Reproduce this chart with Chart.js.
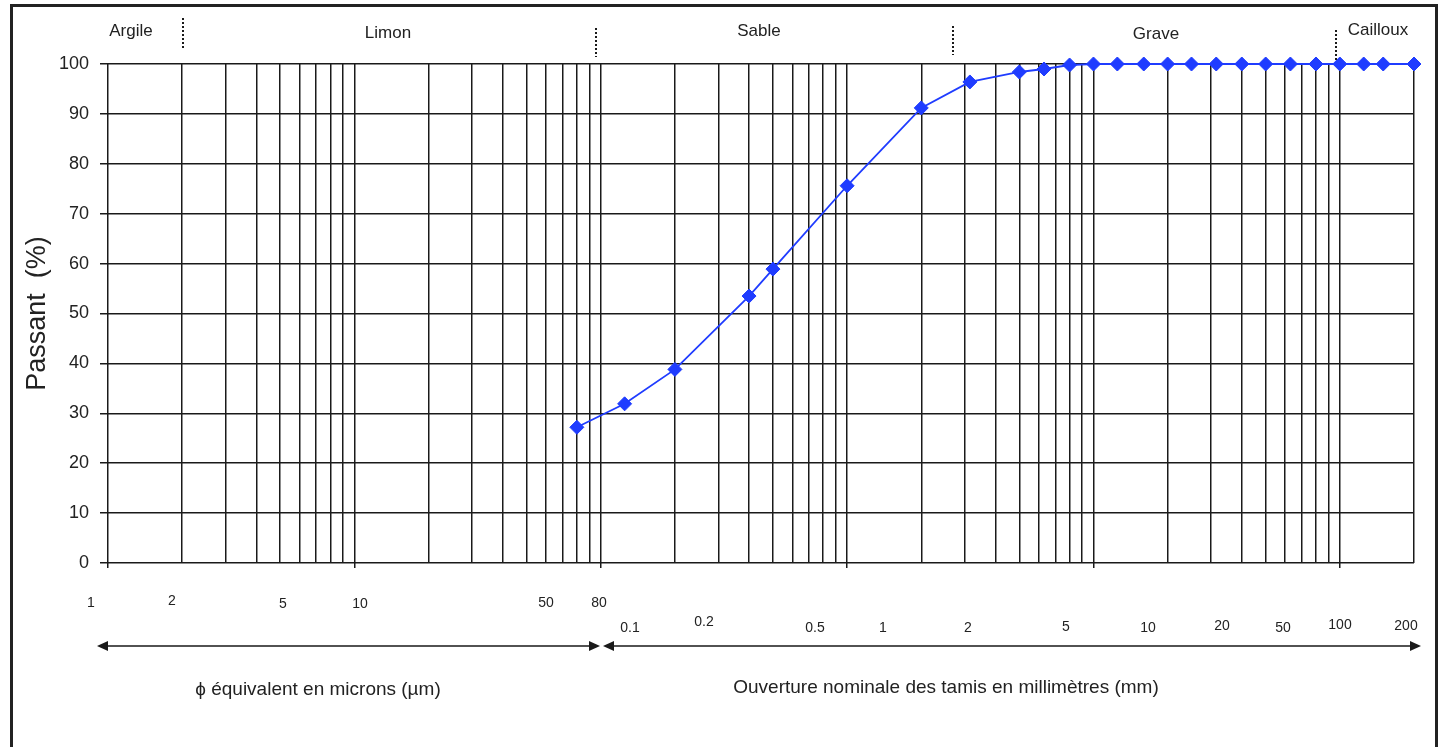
<!DOCTYPE html>
<html>
<head>
<meta charset="utf-8">
<script src="https://cdn.jsdelivr.net/npm/chart.js@4"></script>
<style>
  html, body { margin: 0; padding: 0; background: #fff; }
  #wrap { width: 1447px; height: 747px; position: relative; }
</style>
</head>
<body>
<div id="wrap"><canvas id="courbe"></canvas></div>
<script>
// ouverture des tamis (mm) et pourcentage passant
const tamis = [0.08, 0.125, 0.2, 0.4, 0.5, 1, 2, 3.15, 5, 6.3, 8, 10, 12.5, 16, 20, 25, 31.5, 40, 50, 63, 80, 100, 125, 150, 200];
const passant = [27.2, 31.9, 38.8, 53.5, 58.9, 75.6, 91.2, 96.4, 98.4, 99.0, 99.8, 100, 100, 100, 100, 100, 100, 100, 100, 100, 100, 100, 100, 100, 100];

// textes
const classes = ['Argile', 'Limon', 'Sable', 'Grave', 'Cailloux'];
const labelsMicrons = ['1', '2', '5', '10', '50', '80'];
const labelsMm = ['0.1', '0.2', '0.5', '1', '2', '5', '10', '20', '50', '100', '200'];
const decades = [0.001, 0.01, 0.1, 1, 10];

// lignes verticales de la grille (1..9 par décade, puis 100 et 200 mm)
const grilleX = [];
decades.forEach(d => { for (let k = 1; k <= 9; k++) grilleX.push(+(d * k).toPrecision(3)); });
grilleX.push(100, 200);

// placement des annotations (pixels)
const posClasses = [[131, 31], [388, 33], [759, 31], [1156, 34], [1378, 30]];
const separateurs = [[183, 18, 48], [596, 28, 57], [953, 26, 55], [1336, 30, 60]];
const posMicrons = [[91, 603], [172, 601], [283, 604], [360, 604], [546, 603], [599, 603]];
const posMm = [[630, 628], [704, 622], [815, 628], [883, 628], [968, 628], [1066, 627], [1148, 628], [1222, 626], [1283, 628], [1340, 625], [1406, 626]];

const police = '"Liberation Sans", Arial, sans-serif';
const noir = '#1a1a1a';
const bleu = '#1f3cff';

function fleche(ctx, x, y, dir) {
  ctx.beginPath();
  ctx.moveTo(x, y);
  ctx.lineTo(x - dir * 11, y - 5);
  ctx.lineTo(x - dir * 11, y + 5);
  ctx.closePath();
  ctx.fill();
}

const annotations = {
  id: 'annotations',
  beforeDraw(chart) {
    const ctx = chart.ctx;
    ctx.save();
    ctx.fillStyle = '#fff';
    ctx.fillRect(0, 0, chart.width, chart.height);
    ctx.restore();
  },
  afterDraw(chart) {
    const ctx = chart.ctx;
    ctx.save();
    // cadre
    ctx.strokeStyle = '#222';
    ctx.lineWidth = 3;
    ctx.strokeRect(11.5, 5.5, 1425, 800);

    ctx.fillStyle = '#222';
    ctx.textAlign = 'center';
    ctx.textBaseline = 'middle';
    ctx.font = '17px ' + police;
    classes.forEach((c, i) => ctx.fillText(c, posClasses[i][0], posClasses[i][1]));

    ctx.strokeStyle = noir;
    ctx.lineWidth = 2;
    ctx.setLineDash([2, 2]);
    separateurs.forEach(s => {
      ctx.beginPath();
      ctx.moveTo(s[0], s[1]);
      ctx.lineTo(s[0], s[2]);
      ctx.stroke();
    });
    ctx.setLineDash([]);

    ctx.font = '14px ' + police;
    labelsMicrons.forEach((t, i) => ctx.fillText(t, posMicrons[i][0], posMicrons[i][1]));
    labelsMm.forEach((t, i) => ctx.fillText(t, posMm[i][0], posMm[i][1]));

    // flèches
    ctx.fillStyle = noir;
    ctx.lineWidth = 1.5;
    const yf = 646;
    ctx.beginPath();
    ctx.moveTo(100, yf); ctx.lineTo(597, yf);
    ctx.moveTo(606, yf); ctx.lineTo(1418, yf);
    ctx.stroke();
    fleche(ctx, 97, yf, -1);
    fleche(ctx, 600, yf, 1);
    fleche(ctx, 603, yf, -1);
    fleche(ctx, 1421, yf, 1);

    ctx.fillStyle = '#222';
    ctx.font = '19px ' + police;
    ctx.fillText('\u03d5 équivalent en microns (µm)', 318, 690);
    ctx.fillText('Ouverture nominale des tamis en millimètres (mm)', 946, 688);
    ctx.restore();
  }
};

new Chart(document.getElementById('courbe'), {
  type: 'line',
  data: {
    datasets: [{
      data: tamis.map((t, i) => ({ x: t, y: passant[i] })),
      borderColor: bleu,
      backgroundColor: bleu,
      borderWidth: 1.8,
      pointStyle: 'rectRot',
      pointRadius: 7,
      pointBorderWidth: 1,
      tension: 0,
      clip: false
    }]
  },
  options: {
    responsive: true,
    maintainAspectRatio: false,
    animation: false,
    layout: { padding: { top: 64, left: 10, right: 33, bottom: 0 } },
    plugins: { legend: { display: false }, tooltip: { enabled: false } },
    scales: {
      x: {
        type: 'logarithmic',
        min: 0.001,
        max: 200,
        afterBuildTicks: s => { s.ticks = grilleX.map(v => ({ value: v })); },
        afterFit: s => { s.height = 184; },
        ticks: { display: false },
        border: { display: false },
        grid: {
          color: noir,
          lineWidth: 1.5,
          tickLength: 5,
          tickColor: c => {
            const l = Math.log10(c.tick.value);
            return Math.abs(l - Math.round(l)) < 1e-6 ? noir : 'rgba(0,0,0,0)';
          }
        }
      },
      y: {
        min: 0,
        max: 100,
        afterFit: s => { s.width = 98; },
        ticks: { stepSize: 10, color: '#222', padding: 11, font: { family: police, size: 18 } },
        border: { display: false },
        grid: { color: noir, lineWidth: 1.5, tickLength: 8, tickColor: noir },
        title: {
          display: true,
          text: 'Passant  (%)',
          color: '#222',
          padding: { top: 11, bottom: 0 },
          font: { family: police, size: 27 }
        }
      }
    }
  },
  plugins: [annotations]
});
</script>
</body>
</html>
